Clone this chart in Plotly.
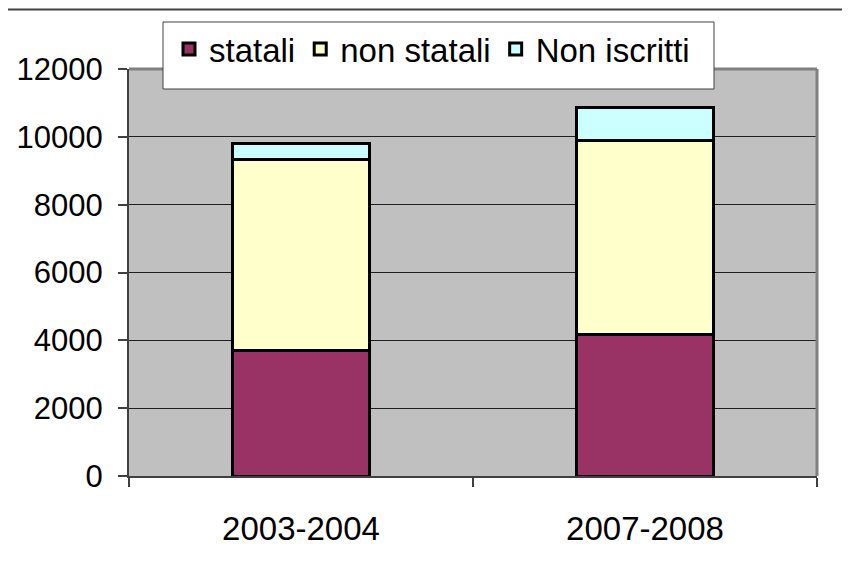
import plotly.graph_objects as go

categories = ["2003-2004", "2007-2008"]
statali = [3710, 4180]
non_statali = [5620, 5700]
non_iscritti = [480, 980]
y_ticks = [0, 2000, 4000, 6000, 8000, 10000, 12000]

FONT = "Liberation Sans, Arial, sans-serif"

fig = go.Figure()
series = [
    ("statali", statali, "#993366"),
    ("non statali", non_statali, "#FFFFCC"),
    ("Non iscritti", non_iscritti, "#CCFFFF"),
]
for name, vals, col in series:
    fig.add_trace(go.Bar(
        x=categories, y=vals, name=name,
        marker=dict(color=col, line=dict(color="#000000", width=3)),
    ))

# page body has an 8px margin; screen coords -> figure coords
OFF = 8
FW, FH = 850 - OFF, 568 - OFF
L, R, T, B = 129 - OFF, 817 - OFF, 69 - OFF, 476 - OFF
W, H = R - L, B - T


def px(x):
    return (x - OFF - L) / W


def py(y):
    return (B - (y - OFF)) / H


fig.update_layout(
    width=FW, height=FH,
    margin=dict(l=L, r=FW - R, t=T, b=FH - B, pad=0, autoexpand=False),
    barmode="stack", bargap=0.6,
    paper_bgcolor="white", plot_bgcolor="#C0C0C0",
    font=dict(family=FONT, size=33, color="#000000"),
    showlegend=True,
    legend=dict(
        orientation="h", x=px(169), xanchor="left", y=py(49), yanchor="middle",
        bgcolor="rgba(0,0,0,0)", borderwidth=0,
        font=dict(family=FONT, size=33, color="#000000"),
        traceorder="normal", itemwidth=30,
    ),
    xaxis=dict(
        type="category", tickson="boundaries", ticks="outside", ticklen=9,
        tickcolor="#404040", tickwidth=1.5,
        showline=True, linecolor="#404040", linewidth=2,
        tickfont=dict(family=FONT, size=33), showgrid=False,
        ticklabelstandoff=22, automargin=False,
    ),
    yaxis=dict(
        range=[0, 12000], tickvals=y_ticks, ticktext=[str(v) for v in y_ticks],
        ticks="outside", ticklen=9, tickcolor="#404040", tickwidth=1.5,
        showline=True, linecolor="#404040", linewidth=2,
        showgrid=True, gridcolor="#202020", gridwidth=1,
        tickfont=dict(family=FONT, size=31), zeroline=False,
        ticklabelstandoff=9, automargin=False,
    ),
    shapes=[
        dict(type="line", xref="paper", yref="paper", x0=0, x1=1, y0=1, y1=1,
             line=dict(color="#808080", width=3), layer="above"),
        dict(type="line", xref="paper", yref="paper", x0=1, x1=1, y0=0, y1=1,
             line=dict(color="#808080", width=3), layer="above"),
        dict(type="rect", xref="paper", yref="paper", x0=px(163), x1=px(714),
             y0=py(89), y1=py(22), fillcolor="white",
             line=dict(color="#404040", width=1), layer="above"),
        dict(type="line", xref="paper", yref="paper", x0=px(0), x1=px(850),
             y0=py(9.5), y1=py(9.5), line=dict(color="#404040", width=2), layer="above"),
    ],
)

fig.write_html("out.html")
